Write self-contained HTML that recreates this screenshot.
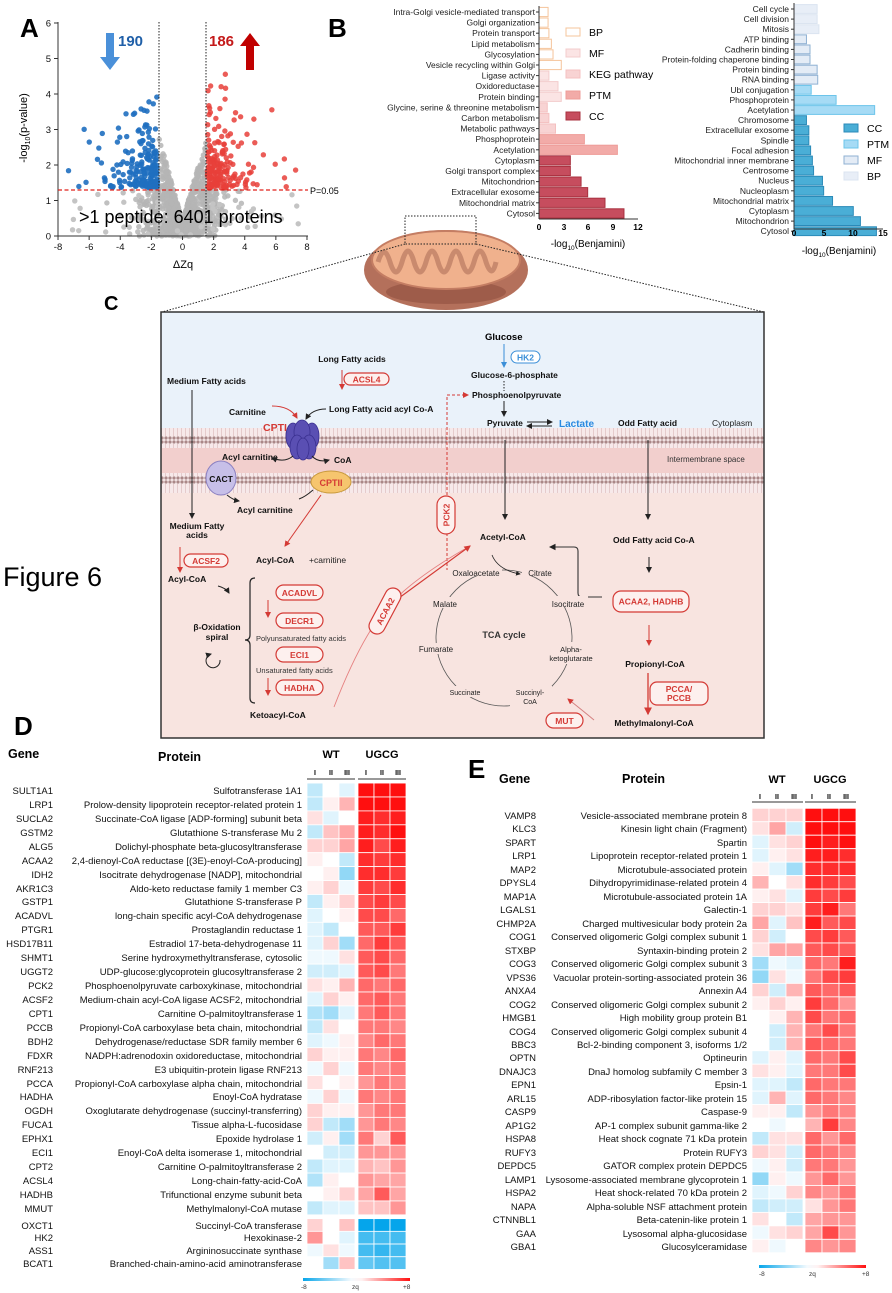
<!DOCTYPE html>
<html><head><meta charset="utf-8">
<style>
html,body{margin:0;padding:0;background:#fff;}
svg{display:block;font-family:"Liberation Sans",Arial,sans-serif;}
.b{font-weight:bold}
.lb{font-size:8.5px;fill:#222}
.g{font-size:9.5px;fill:#111}
.pill{fill:#fdf0ee;stroke:#d43a35;stroke-width:1.2}
.pt{font-size:8.5px;font-weight:bold;fill:#d43a35;text-anchor:middle}
.c{font-size:8.5px;fill:#111;font-weight:bold}
.s{font-size:7.5px;fill:#333}
</style></head><body>
<svg id="s" width="892" height="1293" viewBox="0 0 892 1293" xmlns="http://www.w3.org/2000/svg">
<defs>
<marker id="ak" markerWidth="6" markerHeight="6" refX="5" refY="3" orient="auto"><path d="M0,0L6,3L0,6z" fill="#222"/></marker>
<marker id="ar" markerWidth="6" markerHeight="6" refX="5" refY="3" orient="auto"><path d="M0,0L6,3L0,6z" fill="#d43a35"/></marker>
<marker id="ab" markerWidth="6" markerHeight="6" refX="5" refY="3" orient="auto"><path d="M0,0L6,3L0,6z" fill="#3b8fd8"/></marker>
<pattern id="mem" width="4" height="20" patternUnits="userSpaceOnUse">
<rect width="4" height="20" fill="#f7e9ea"/>
<circle cx="2" cy="2" r="1.6" fill="#a88"/><circle cx="2" cy="18" r="1.6" fill="#a88"/>
<line x1="1.5" y1="4" x2="1.5" y2="16" stroke="#d9b8b8" stroke-width="0.6"/>
</pattern>
<linearGradient id="cb"><stop offset="0" stop-color="#08a6ea"/><stop offset="0.45" stop-color="#f4fafe"/><stop offset="0.55" stop-color="#fff2f2"/><stop offset="1" stop-color="#ff1010"/></linearGradient>
</defs>

<!-- ===== A ===== -->
<text x="20" y="37" font-size="26" class="b">A</text>
<g id="scat"></g>
<g stroke="#333" stroke-width="1" fill="none">
<line x1="58" y1="22" x2="58" y2="236"/><line x1="58" y1="236" x2="308" y2="236"/>
</g>
<g id="ax" font-size="9.5" fill="#111"></g>
<line x1="159" y1="22" x2="159" y2="236" stroke="#222" stroke-dasharray="1.5,1.5"/>
<line x1="206" y1="22" x2="206" y2="236" stroke="#222" stroke-dasharray="1.5,1.5"/>
<line x1="58" y1="190" x2="308" y2="190" stroke="#e0201a" stroke-width="1.2" stroke-dasharray="4,2.5"/>
<text x="310" y="194" font-size="9">P=0.05</text>
<text x="79" y="223" font-size="18">&gt;1 peptide: 6401 proteins</text>
<text x="183" y="268" font-size="11" text-anchor="middle">ΔZq</text>
<text transform="translate(27,128) rotate(-90)" font-size="11" text-anchor="middle">-log<tspan font-size="7" dy="3">10</tspan><tspan dy="-3">(p-value)</tspan></text>
<path d="M106,33h8v24h6l-10,13l-10,-13h6z" fill="#4a90d9"/>
<text x="118" y="46" font-size="15" class="b" fill="#1f5fa8">190</text>
<path d="M246,70v-24h-6l10,-13l10,13h-6v24z" fill="#c00000"/>
<text x="209" y="46" font-size="15" class="b" fill="#c41a1a">186</text>

<!-- ===== B ===== -->
<text x="328" y="37" font-size="26" class="b">B</text>
<g id="bl"></g>
<g class="lb" text-anchor="end">
<text x="535" y="15">Intra-Golgi vesicle-mediated transport</text>
<text x="535" y="25.6">Golgi organization</text>
<text x="535" y="36.2">Protein transport</text>
<text x="535" y="46.8">Lipid metabolism</text>
<text x="535" y="57.4">Glycosylation</text>
<text x="535" y="68">Vesicle recycling within Golgi</text>
<text x="535" y="78.6">Ligase activity</text>
<text x="535" y="89.2">Oxidoreductase</text>
<text x="535" y="99.8">Protein binding</text>
<text x="535" y="110.4">Glycine, serine &amp; threonine metabolism</text>
<text x="535" y="121">Carbon metabolism</text>
<text x="535" y="131.6">Metabolic pathways</text>
<text x="535" y="142.2">Phosphoprotein</text>
<text x="535" y="152.8">Acetylation</text>
<text x="535" y="163.4">Cytoplasm</text>
<text x="535" y="174">Golgi transport complex</text>
<text x="535" y="184.6">Mitochondrion</text>
<text x="535" y="195.2">Extracellular exosome</text>
<text x="535" y="205.8">Mitochondrial matrix</text>
<text x="535" y="216.4">Cytosol</text>
</g>
<line x1="539" y1="6" x2="539" y2="219" stroke="#333"/>
<line x1="539" y1="219" x2="638" y2="219" stroke="#333"/>
<g font-size="8.5" text-anchor="middle" class="b"><text x="539" y="230">0</text><text x="564" y="230">3</text><text x="588" y="230">6</text><text x="613" y="230">9</text><text x="638" y="230">12</text></g>
<text x="588" y="247" font-size="10" text-anchor="middle">-log<tspan font-size="6.5" dy="3">10</tspan><tspan dy="-3">(Benjamini)</tspan></text>
<g font-size="10.5">
<rect x="566" y="28" width="14" height="8" fill="#fff" stroke="#f5c49b"/><text x="589" y="36">BP</text>
<rect x="566" y="49" width="14" height="8" fill="#fbe4e4" stroke="#f3cccc"/><text x="589" y="57">MF</text>
<rect x="566" y="70" width="14" height="8" fill="#f8d3d3" stroke="#f4c0c0"/><text x="589" y="78">KEG pathway</text>
<rect x="566" y="91" width="14" height="8" fill="#f2aba8" stroke="#ee9c98"/><text x="589" y="99">PTM</text>
<rect x="566" y="112" width="14" height="8" fill="#c64d5e" stroke="#a8313f"/><text x="589" y="120">CC</text>
</g>

<g id="br"></g>
<g class="lb" text-anchor="end">
<text x="789" y="12">Cell cycle</text>
<text x="789" y="22.1">Cell division</text>
<text x="789" y="32.2">Mitosis</text>
<text x="789" y="42.3">ATP binding</text>
<text x="789" y="52.4">Cadherin binding</text>
<text x="789" y="62.5">Protein-folding chaperone binding</text>
<text x="789" y="72.6">Protein binding</text>
<text x="789" y="82.7">RNA binding</text>
<text x="789" y="92.8">Ubl conjugation</text>
<text x="789" y="102.9">Phosphoprotein</text>
<text x="789" y="113">Acetylation</text>
<text x="789" y="123.1">Chromosome</text>
<text x="789" y="133.2">Extracellular exosome</text>
<text x="789" y="143.3">Spindle</text>
<text x="789" y="153.4">Focal adhesion</text>
<text x="789" y="163.5">Mitochondrial inner membrane</text>
<text x="789" y="173.6">Centrosome</text>
<text x="789" y="183.7">Nucleus</text>
<text x="789" y="193.8">Nucleoplasm</text>
<text x="789" y="203.9">Mitochondrial matrix</text>
<text x="789" y="214">Cytoplasm</text>
<text x="789" y="224.1">Mitochondrion</text>
<text x="789" y="234.2">Cytosol</text>
</g>
<line x1="794" y1="3" x2="794" y2="229" stroke="#333"/>
<line x1="794" y1="229" x2="883" y2="229" stroke="#333"/>
<g font-size="8.5" text-anchor="middle" class="b"><text x="794" y="236">0</text><text x="824" y="236">5</text><text x="853" y="236">10</text><text x="883" y="236">15</text></g>
<text x="839" y="254" font-size="10" text-anchor="middle">-log<tspan font-size="6.5" dy="3">10</tspan><tspan dy="-3">(Benjamini)</tspan></text>
<g font-size="10.5">
<rect x="844" y="124" width="14" height="8" fill="#4aaed6" stroke="#2b8ab8"/><text x="867" y="132">CC</text>
<rect x="844" y="140" width="14" height="8" fill="#a6dbf5" stroke="#6cc4ea"/><text x="867" y="148">PTM</text>
<rect x="844" y="156" width="14" height="8" fill="#e4ecf6" stroke="#8fb1d3"/><text x="867" y="164">MF</text>
<rect x="844" y="172" width="14" height="8" fill="#e8eef7" stroke="#dbe4f0"/><text x="867" y="180">BP</text>
</g>

<!-- mitochondrion -->
<ellipse cx="446" cy="270" rx="82" ry="40" fill="#b4705b"/>
<ellipse cx="446" cy="292" rx="60" ry="12" fill="#9e5c4a"/>
<ellipse cx="446" cy="260" rx="74" ry="29" fill="#f0b18d" stroke="#c47d63" stroke-width="2"/>
<path d="M378,262 q6,-20 12,0 q6,20 12,0 q6,-22 12,0 q6,20 12,0 q6,-22 12,0 q6,20 12,0 q6,-22 12,0 q6,20 12,0 q6,-22 12,0 q6,18 10,0" fill="none" stroke="#c98a6e" stroke-width="5"/>
<rect x="405" y="216" width="71" height="28" fill="none" stroke="#222" stroke-dasharray="1.5,1.5"/>
<line x1="405" y1="244" x2="162" y2="312" stroke="#222" stroke-dasharray="1.5,1.5"/>
<line x1="476" y1="244" x2="764" y2="312" stroke="#222" stroke-dasharray="1.5,1.5"/>

<!-- ===== C ===== -->
<text x="104" y="310" font-size="20" class="b">C</text>
<text x="3" y="586" font-size="27">Figure 6</text>
<rect x="161" y="312" width="603" height="426" fill="#f8e4e0"/>
<rect x="161" y="312" width="603" height="116" fill="#eaf2fa"/>
<rect x="161" y="428" width="603" height="20" fill="url(#mem)"/>
<rect x="161" y="448" width="603" height="25" fill="#f2cfcd"/>
<rect x="161" y="473" width="603" height="20" fill="url(#mem)"/>
<rect x="161" y="312" width="603" height="426" fill="none" stroke="#333" stroke-width="1.5"/>

<text x="485" y="340" font-size="9.5" class="b">Glucose</text>
<line x1="504" y1="344" x2="504" y2="367" stroke="#3b8fd8" marker-end="url(#ab)"/>
<rect x="511" y="351" width="29" height="12" rx="6" fill="#fff" stroke="#3b8fd8"/>
<text x="525.5" y="360.5" font-size="8.5" class="b" fill="#3b8fd8" text-anchor="middle">HK2</text>
<text x="471" y="378" class="c" font-size="8">Glucose-6-phosphate</text>
<line x1="504" y1="381" x2="504" y2="391" stroke="#222" stroke-dasharray="1.5,1.5"/>
<text x="472" y="398" class="c" font-size="8">Phosphoenolpyruvate</text>
<path d="M447,510 V395 H468" fill="none" stroke="#d43a35" stroke-dasharray="3,2" marker-end="url(#ar)"/>
<line x1="447" y1="533" x2="447" y2="570" stroke="#d43a35" stroke-dasharray="3,2"/>
<line x1="504" y1="401" x2="504" y2="416" stroke="#222" marker-end="url(#ak)"/>
<text x="487" y="426" class="c" font-size="8">Pyruvate</text>
<line x1="527" y1="422" x2="552" y2="422" stroke="#222" marker-end="url(#ak)"/>
<line x1="552" y1="426" x2="527" y2="426" stroke="#222" marker-end="url(#ak)"/>
<text x="559" y="427" font-size="10" class="b" fill="#2a8ae0">Lactate</text>
<text x="618" y="426" class="c" font-size="9">Odd Fatty acid</text>
<text x="712" y="426" font-size="8.5" fill="#222">Cytoplasm</text>
<text x="667" y="462" font-size="8" fill="#333">Intermembrane space</text>

<text x="352" y="362" class="c" font-size="9" text-anchor="middle">Long Fatty acids</text>
<line x1="342" y1="370" x2="342" y2="389" stroke="#d43a35" marker-end="url(#ar)"/>
<rect x="344" y="373" width="45" height="12" rx="6" class="pill"/>
<text x="366.5" y="382.5" class="pt">ACSL4</text>
<text x="167" y="384" class="c" font-size="9">Medium Fatty acids</text>
<line x1="192" y1="390" x2="192" y2="518" stroke="#222" marker-end="url(#ak)"/>
<text x="229" y="415" class="c" font-size="9">Carnitine</text>
<path d="M272,406 Q290,406 297,418" fill="none" stroke="#d43a35" marker-end="url(#ar)"/>
<text x="329" y="412" class="c" font-size="9">Long Fatty acid acyl Co-A</text>
<path d="M326,409 Q312,409 306,419" fill="none" stroke="#222" marker-end="url(#ak)"/>
<text x="263" y="431" font-size="10.5" class="b" fill="#d43a35">CPTI</text>
<g fill="#5a4fb3" stroke="#3a3090" stroke-width="0.8">
<ellipse cx="293" cy="436" rx="7" ry="13"/><ellipse cx="312" cy="436" rx="7" ry="13"/>
<ellipse cx="302" cy="432" rx="8" ry="12"/><ellipse cx="297" cy="447" rx="7" ry="12"/><ellipse cx="309" cy="447" rx="7" ry="12"/><ellipse cx="303" cy="449" rx="6" ry="11"/>
</g>
<text x="222" y="460" class="c" font-size="8">Acyl carnitine</text>
<path d="M293,456 Q285,463 272,458" fill="none" stroke="#222" marker-end="url(#ak)"/>
<path d="M312,456 Q318,463 329,460" fill="none" stroke="#222" marker-end="url(#ak)"/>
<text x="334" y="463" class="c" font-size="8">CoA</text>
<ellipse cx="221" cy="478" rx="15" ry="17" fill="#c7bfe8" stroke="#8a7fc0"/>
<text x="221" y="482" class="c" font-size="9" text-anchor="middle">CACT</text>
<ellipse cx="331" cy="482" rx="20" ry="11" fill="#f6c56e" stroke="#c99a3d"/>
<text x="331" y="486" font-size="9" class="b" fill="#d43a35" text-anchor="middle">CPTII</text>
<path d="M227,495 Q233,500 239,501" fill="none" stroke="#222" marker-end="url(#ak)"/>
<text x="237" y="513" class="c" font-size="9">Acyl carnitine</text>
<path d="M313,490 Q305,497 299,499" fill="none" stroke="#222"/>
<line x1="321" y1="495" x2="285" y2="546" stroke="#d43a35" marker-end="url(#ar)"/>
<text x="197" y="529" class="c" font-size="8" text-anchor="middle">Medium Fatty</text>
<text x="197" y="538" class="c" font-size="8" text-anchor="middle">acids</text>
<line x1="180" y1="547" x2="180" y2="572" stroke="#d43a35" marker-end="url(#ar)"/>
<rect x="184" y="554" width="44" height="13" rx="6.5" class="pill"/>
<text x="206" y="564" class="pt">ACSF2</text>
<text x="168" y="582" class="c" font-size="9">Acyl-CoA</text>
<path d="M218,586 Q226,588 229,593" fill="none" stroke="#222" marker-end="url(#ak)"/>
<text x="256" y="563" class="c" font-size="9">Acyl-CoA</text>
<text x="309" y="563" font-size="8.5" fill="#222">+carnitine</text>
<path d="M255,578 q-5,0 -5,5 v52 q0,5 -5,5 q5,0 5,5 v53 q0,5 5,5" fill="none" stroke="#222" stroke-width="1.2"/>
<text x="217" y="630" class="c" font-size="9" text-anchor="middle">β-Oxidation</text>
<text x="217" y="640" class="c" font-size="9" text-anchor="middle">spiral</text>
<path d="M220,660 a7,7 0 1 1 -9,-6" fill="none" stroke="#222" marker-end="url(#ak)"/>
<rect x="276" y="585" width="47" height="15" rx="7.5" class="pill"/><text x="299.5" y="596" class="pt">ACADVL</text>
<line x1="268" y1="600" x2="268" y2="617" stroke="#d43a35" marker-end="url(#ar)"/>
<rect x="276" y="613" width="47" height="15" rx="7.5" class="pill"/><text x="299.5" y="624" class="pt">DECR1</text>
<text x="256" y="641" class="s" font-size="7">Polyunsaturated fatty acids</text>
<rect x="276" y="647" width="47" height="15" rx="7.5" class="pill"/><text x="299.5" y="658" class="pt">ECI1</text>
<text x="256" y="673" class="s" font-size="7">Unsaturated fatty acids</text>
<line x1="268" y1="678" x2="268" y2="695" stroke="#d43a35" marker-end="url(#ar)"/>
<rect x="276" y="680" width="47" height="15" rx="7.5" class="pill"/><text x="299.5" y="691" class="pt">HADHA</text>
<text x="250" y="718" class="c" font-size="9">Ketoacyl-CoA</text>
<path d="M334,707 Q360,640 385,610 T470,546" fill="none" stroke="#e58080" stroke-width="0.9"/>
<path d="M388,606 L470,546" fill="none" stroke="#d43a35" stroke-width="1.1" marker-end="url(#ar)"/>
<g transform="translate(385,611) rotate(-62)"><rect x="-25" y="-8" width="50" height="16" rx="8" class="pill"/><text x="0" y="3.5" class="pt">ACAA2</text></g>
<g transform="translate(446,515) rotate(-90)"><rect x="-19" y="-9" width="38" height="18" rx="9" class="pill"/><text x="0" y="3.5" class="pt">PCK2</text></g>
<line x1="505" y1="440" x2="505" y2="519" stroke="#222" marker-end="url(#ak)"/>
<text x="480" y="540" class="c" font-size="9.5">Acetyl-CoA</text>
<line x1="648" y1="440" x2="648" y2="519" stroke="#222" marker-end="url(#ak)"/>
<text x="613" y="543" class="c" font-size="9.5">Odd Fatty acid Co-A</text>
<line x1="649" y1="557" x2="649" y2="572" stroke="#222" marker-end="url(#ak)"/>
<path d="M602,597 H582 Q578,597 578,593 V551 Q578,547 574,547 H550" fill="none" stroke="#333" stroke-width="1.1" marker-end="url(#ak)"/>
<rect x="613" y="591" width="76" height="21" rx="8" class="pill"/><text x="651" y="604.5" class="pt" font-size="8">ACAA2, HADHB</text>
<line x1="649" y1="625" x2="649" y2="645" stroke="#d43a35" marker-end="url(#ar)"/>
<text x="655" y="667" class="c" font-size="9.5" text-anchor="middle">Propionyl-CoA</text>
<line x1="648" y1="673" x2="648" y2="714" stroke="#d43a35" stroke-width="1.3" marker-end="url(#ar)"/>
<rect x="650" y="682" width="58" height="23" rx="7" class="pill"/>
<text x="679" y="692" class="pt" font-size="7.5">PCCA/</text><text x="679" y="701" class="pt" font-size="7.5">PCCB</text>
<text x="654" y="726" class="c" font-size="9.5" text-anchor="middle">Methylmalonyl-CoA</text>
<rect x="546" y="713" width="37" height="15" rx="7.5" class="pill"/><text x="564.5" y="724" class="pt">MUT</text>
<path d="M594,720 Q582,710 568,699" fill="none" stroke="#d48080" marker-end="url(#ar)"/>
<!-- TCA -->
<circle cx="504" cy="638" r="68" fill="none" stroke="#555" stroke-width="0.8"/>
<rect x="452" y="565" width="50" height="11" fill="#f8e4e0"/>
<rect x="522" y="565" width="36" height="11" fill="#f8e4e0"/>
<rect x="548" y="596" width="40" height="11" fill="#f8e4e0"/>
<rect x="545" y="642" width="54" height="22" fill="#f8e4e0"/>
<rect x="510" y="686" width="42" height="22" fill="#f8e4e0"/>
<rect x="447" y="686" width="36" height="11" fill="#f8e4e0"/>
<rect x="414" y="643" width="44" height="11" fill="#f8e4e0"/>
<rect x="427" y="597" width="36" height="11" fill="#f8e4e0"/>
<path d="M492,555 Q498,570 520,574" fill="none" stroke="#222" stroke-width="0.8" marker-end="url(#ak)"/>
<text x="476" y="576" font-size="8" fill="#222" text-anchor="middle">Oxaloacetate</text>
<text x="540" y="576" font-size="8" fill="#222" text-anchor="middle">Citrate</text>
<text x="568" y="607" font-size="8" fill="#222" text-anchor="middle">Isocitrate</text>
<text x="571" y="652" font-size="7.5" fill="#222" text-anchor="middle">Alpha-</text>
<text x="571" y="661" font-size="7.5" fill="#222" text-anchor="middle">ketoglutarate</text>
<text x="530" y="695" font-size="7" fill="#222" text-anchor="middle">Succinyl-</text>
<text x="530" y="704" font-size="7" fill="#222" text-anchor="middle">CoA</text>
<text x="465" y="695" font-size="7" fill="#222" text-anchor="middle">Succinate</text>
<text x="436" y="652" font-size="8" fill="#222" text-anchor="middle">Fumarate</text>
<text x="445" y="607" font-size="8" fill="#222" text-anchor="middle">Malate</text>
<text x="504" y="638" font-size="9" class="b" fill="#333" text-anchor="middle">TCA cycle</text>

<!-- ===== D ===== -->
<text x="14" y="735" font-size="26" class="b">D</text>
<text x="8" y="758" font-size="12.5" class="b">Gene</text>
<text x="158" y="761" font-size="12.5" class="b">Protein</text>
<text x="331" y="758" font-size="11" class="b" text-anchor="middle">WT</text>
<text x="382" y="758" font-size="11" class="b" text-anchor="middle">UGCG</text>
<g font-size="7" class="b" text-anchor="middle"><text x="315" y="775">I</text><text x="331" y="775">II</text><text x="347" y="775">III</text><text x="366" y="775">I</text><text x="382" y="775">II</text><text x="398" y="775">III</text></g>
<line x1="307" y1="779" x2="355" y2="779" stroke="#333"/><line x1="358" y1="779" x2="406" y2="779" stroke="#333"/>
<g class="g" text-anchor="end">
<text x="53" y="794">SULT1A1</text><text x="302" y="794">Sulfotransferase 1A1</text>
<text x="53" y="808">LRP1</text><text x="302" y="808">Prolow-density lipoprotein receptor-related protein 1</text>
<text x="53" y="822">SUCLA2</text><text x="302" y="822">Succinate-CoA ligase [ADP-forming] subunit beta</text>
<text x="53" y="836">GSTM2</text><text x="302" y="836">Glutathione S-transferase Mu 2</text>
<text x="53" y="850">ALG5</text><text x="302" y="850">Dolichyl-phosphate beta-glucosyltransferase</text>
<text x="53" y="864">ACAA2</text><text x="302" y="864">2,4-dienoyl-CoA reductase [(3E)-enoyl-CoA-producing]</text>
<text x="53" y="878">IDH2</text><text x="302" y="878">Isocitrate dehydrogenase [NADP], mitochondrial</text>
<text x="53" y="892">AKR1C3</text><text x="302" y="892">Aldo-keto reductase family 1 member C3</text>
<text x="53" y="905">GSTP1</text><text x="302" y="905">Glutathione S-transferase P</text>
<text x="53" y="919">ACADVL</text><text x="302" y="919">long-chain specific acyl-CoA dehydrogenase</text>
<text x="53" y="933">PTGR1</text><text x="302" y="933">Prostaglandin reductase 1</text>
<text x="53" y="947">HSD17B11</text><text x="302" y="947">Estradiol 17-beta-dehydrogenase 11</text>
<text x="53" y="961">SHMT1</text><text x="302" y="961">Serine hydroxymethyltransferase, cytosolic</text>
<text x="53" y="975">UGGT2</text><text x="302" y="975">UDP-glucose:glycoprotein glucosyltransferase 2</text>
<text x="53" y="989">PCK2</text><text x="302" y="989">Phosphoenolpyruvate carboxykinase, mitochondrial</text>
<text x="53" y="1003">ACSF2</text><text x="302" y="1003">Medium-chain acyl-CoA ligase ACSF2, mitochondrial</text>
<text x="53" y="1017">CPT1</text><text x="302" y="1017">Carnitine O-palmitoyltransferase 1</text>
<text x="53" y="1031">PCCB</text><text x="302" y="1031">Propionyl-CoA carboxylase beta chain, mitochondrial</text>
<text x="53" y="1045">BDH2</text><text x="302" y="1045">Dehydrogenase/reductase SDR family member 6</text>
<text x="53" y="1059">FDXR</text><text x="302" y="1059">NADPH:adrenodoxin oxidoreductase, mitochondrial</text>
<text x="53" y="1073">RNF213</text><text x="302" y="1073">E3 ubiquitin-protein ligase RNF213</text>
<text x="53" y="1087">PCCA</text><text x="302" y="1087">Propionyl-CoA carboxylase alpha chain, mitochondrial</text>
<text x="53" y="1100">HADHA</text><text x="302" y="1100">Enoyl-CoA hydratase</text>
<text x="53" y="1114">OGDH</text><text x="302" y="1114">Oxoglutarate dehydrogenase (succinyl-transferring)</text>
<text x="53" y="1128">FUCA1</text><text x="302" y="1128">Tissue alpha-L-fucosidase</text>
<text x="53" y="1142">EPHX1</text><text x="302" y="1142">Epoxide hydrolase 1</text>
<text x="53" y="1156">ECI1</text><text x="302" y="1156">Enoyl-CoA delta isomerase 1, mitochondrial</text>
<text x="53" y="1170">CPT2</text><text x="302" y="1170">Carnitine O-palmitoyltransferase 2</text>
<text x="53" y="1184">ACSL4</text><text x="302" y="1184">Long-chain-fatty-acid-CoA</text>
<text x="53" y="1198">HADHB</text><text x="302" y="1198">Trifunctional enzyme subunit beta</text>
<text x="53" y="1212">MMUT</text><text x="302" y="1212">Methylmalonyl-CoA mutase</text>
<text x="53" y="1229">OXCT1</text><text x="302" y="1229">Succinyl-CoA transferase</text>
<text x="53" y="1241">HK2</text><text x="302" y="1241">Hexokinase-2</text>
<text x="53" y="1254">ASS1</text><text x="302" y="1254">Argininosuccinate synthase</text>
<text x="53" y="1267">BCAT1</text><text x="302" y="1267">Branched-chain-amino-acid aminotransferase</text>
</g>
<g id="hd"></g>
<rect x="303" y="1278" width="107" height="3" fill="url(#cb)"/>
<g font-size="6.5" fill="#333"><text x="301" y="1289">-8</text><text x="352" y="1289">zq</text><text x="403" y="1289">+8</text></g>

<!-- ===== E ===== -->
<text x="468" y="778" font-size="26" class="b">E</text>
<text x="499" y="783" font-size="12.5" class="b">Gene</text>
<text x="622" y="783" font-size="12.5" class="b">Protein</text>
<text x="777" y="783" font-size="11" class="b" text-anchor="middle">WT</text>
<text x="830" y="783" font-size="11" class="b" text-anchor="middle">UGCG</text>
<g font-size="7" class="b" text-anchor="middle"><text x="760" y="799">I</text><text x="777" y="799">II</text><text x="794" y="799">III</text><text x="812" y="799">I</text><text x="829" y="799">II</text><text x="846" y="799">III</text></g>
<line x1="752" y1="802" x2="803" y2="802" stroke="#333"/><line x1="805" y1="802" x2="856" y2="802" stroke="#333"/>
<g class="g" text-anchor="end">
<text x="536" y="819">VAMP8</text><text x="747" y="819">Vesicle-associated membrane protein 8</text>
<text x="536" y="832">KLC3</text><text x="747" y="832">Kinesin light chain (Fragment)</text>
<text x="536" y="846">SPART</text><text x="747" y="846">Spartin</text>
<text x="536" y="859">LRP1</text><text x="747" y="859">Lipoprotein receptor-related protein 1</text>
<text x="536" y="873">MAP2</text><text x="747" y="873">Microtubule-associated protein</text>
<text x="536" y="886">DPYSL4</text><text x="747" y="886">Dihydropyrimidinase-related protein 4</text>
<text x="536" y="900">MAP1A</text><text x="747" y="900">Microtubule-associated protein 1A</text>
<text x="536" y="913">LGALS1</text><text x="747" y="913">Galectin-1</text>
<text x="536" y="927">CHMP2A</text><text x="747" y="927">Charged multivesicular body protein 2a</text>
<text x="536" y="940">COG1</text><text x="747" y="940">Conserved oligomeric Golgi complex subunit 1</text>
<text x="536" y="954">STXBP</text><text x="747" y="954">Syntaxin-binding protein 2</text>
<text x="536" y="967">COG3</text><text x="747" y="967">Conserved oligomeric Golgi complex subunit 3</text>
<text x="536" y="981">VPS36</text><text x="747" y="981">Vacuolar protein-sorting-associated protein 36</text>
<text x="536" y="994">ANXA4</text><text x="747" y="994">Annexin A4</text>
<text x="536" y="1008">COG2</text><text x="747" y="1008">Conserved oligomeric Golgi complex subunit 2</text>
<text x="536" y="1021">HMGB1</text><text x="747" y="1021">High mobility group protein B1</text>
<text x="536" y="1035">COG4</text><text x="747" y="1035">Conserved oligomeric Golgi complex subunit 4</text>
<text x="536" y="1048">BBC3</text><text x="747" y="1048">Bcl-2-binding component 3, isoforms 1/2</text>
<text x="536" y="1061">OPTN</text><text x="747" y="1061">Optineurin</text>
<text x="536" y="1075">DNAJC3</text><text x="747" y="1075">DnaJ homolog subfamily C member 3</text>
<text x="536" y="1088">EPN1</text><text x="747" y="1088">Epsin-1</text>
<text x="536" y="1102">ARL15</text><text x="747" y="1102">ADP-ribosylation factor-like protein 15</text>
<text x="536" y="1115">CASP9</text><text x="747" y="1115">Caspase-9</text>
<text x="536" y="1129">AP1G2</text><text x="747" y="1129">AP-1 complex subunit gamma-like 2</text>
<text x="536" y="1142">HSPA8</text><text x="747" y="1142">Heat shock cognate 71 kDa protein</text>
<text x="536" y="1156">RUFY3</text><text x="747" y="1156">Protein RUFY3</text>
<text x="536" y="1169">DEPDC5</text><text x="747" y="1169">GATOR complex protein DEPDC5</text>
<text x="536" y="1183">LAMP1</text><text x="747" y="1183">Lysosome-associated membrane glycoprotein 1</text>
<text x="536" y="1196">HSPA2</text><text x="747" y="1196">Heat shock-related 70 kDa protein 2</text>
<text x="536" y="1210">NAPA</text><text x="747" y="1210">Alpha-soluble NSF attachment protein</text>
<text x="536" y="1223">CTNNBL1</text><text x="747" y="1223">Beta-catenin-like protein 1</text>
<text x="536" y="1237">GAA</text><text x="747" y="1237">Lysosomal alpha-glucosidase</text>
<text x="536" y="1250">GBA1</text><text x="747" y="1250">Glucosylceramidase</text>
</g>
<g id="he"></g>
<rect x="759" y="1265" width="107" height="3" fill="url(#cb)"/>
<g font-size="6.5" fill="#333"><text x="759" y="1276">-8</text><text x="809" y="1276">zq</text><text x="862" y="1276">+8</text></g>
</svg>
<script>
(function(){
var NS="http://www.w3.org/2000/svg";
function el(p,t,a){var e=document.createElementNS(NS,t);for(var k in a)e.setAttribute(k,a[k]);p.appendChild(e);return e;}
function col(v){var r,g,b,t;if(v>=0){t=Math.min(v/8,1);r=255;g=Math.round(255-240*t);b=g;}else{t=Math.min(-v/8,1);r=Math.round(255-250*t);g=Math.round(255-90*t);b=Math.round(255-20*t);}return"rgb("+r+","+g+","+b+")";}
var seed=7;function rnd(){seed=(seed*16807)%2147483647;return seed/2147483647;}
function gs(){return Math.sqrt(-2*Math.log(rnd()+1e-9))*Math.cos(2*Math.PI*rnd());}
var sc=document.getElementById("scat");
function px(x){return 182.5+x*15.56}function py(y){return 236-y*35.5}
for(var i=0;i<900;i++){var x=gs()*1.2;if(x>7||x<-7)continue;var y=rnd()*(0.4+Math.abs(x)*1.6);if(Math.abs(x)>1.5&&y>1.3)y=rnd()*1.3;if(y>3.8)y=rnd()*3.5;
el(sc,"circle",{cx:px(x),cy:py(y),r:2.7,fill:"#b5b5b5","fill-opacity":0.85});}
for(var i=0;i<40;i++){var x=(rnd()*2-1)*7.5;var y=rnd()*1.2;el(sc,"circle",{cx:px(x),cy:py(y),r:2.7,fill:"#c4c4c4"});}
for(var i=0;i<190;i++){var x=-1.6-(-Math.log(rnd()+1e-9))*1.1;if(x<-7.6)x=-7.6+rnd();var y=1.35-Math.log(rnd()+1e-9)*0.6;if(y>4)y=1.5+rnd()*2.3;
el(sc,"circle",{cx:px(x),cy:py(y),r:2.7,fill:"#1f6fc0","fill-opacity":0.9});}
for(var i=0;i<186;i++){var x=1.6-Math.log(rnd()+1e-9)*1.1;if(x>7.8)x=6+rnd()*1.5;var y=1.35-Math.log(rnd()+1e-9)*0.75;if(y>5.7)y=2+rnd()*2.5;
el(sc,"circle",{cx:px(x),cy:py(y),r:2.7,fill:"#e8403a","fill-opacity":0.85});}
var ax=document.getElementById("ax");
for(var v=-8;v<=8;v+=2){el(ax,"line",{x1:px(v),y1:236,x2:px(v),y2:240,stroke:"#333"});var t=el(ax,"text",{x:px(v),y:250,"text-anchor":"middle"});t.textContent=v;}
for(var v=0;v<=6;v++){el(ax,"line",{x1:54,y1:py(v),x2:58,y2:py(v),stroke:"#333"});var t=el(ax,"text",{x:51,y:py(v)+3.5,"text-anchor":"end"});t.textContent=v;}
var bl=document.getElementById("bl");
var L=[[1.1,0],[1.1,0],[1.2,0],[1.5,0],[1.7,0],[2.7,0],[1.2,1],[2.3,1],[2.7,1],[1.0,2],[1.2,2],[2.0,2],[5.5,3],[9.5,3],[3.8,4],[3.8,4],[5.1,4],[5.9,4],[8.0,4],[10.3,4]];
var LF=["#fff","#fbe4e4","#f8d3d3","#f2aba8","#c64d5e"],LS=["#f5c49b","#f3cccc","#f4c0c0","#ee9c98","#a8313f"];
L.forEach(function(d,i){var y=12+i*10.6;el(bl,"rect",{x:539,y:y-4.6,width:d[0]*8.25,height:9.2,fill:LF[d[1]],stroke:LS[d[1]],"stroke-width":1});el(bl,"line",{x1:536,y1:y,x2:539,y2:y,stroke:"#333"});});
var br=document.getElementById("br");
var R=[[3.9,3],[3.9,3],[4.2,3],[2.1,2],[2.7,2],[2.7,2],[3.9,2],[4.0,2],[2.9,1],[7.1,1],[13.6,1],[2.1,0],[2.5,0],[2.5,0],[2.8,0],[3.1,0],[3.3,0],[4.8,0],[5.0,0],[6.5,0],[10,0],[11.2,0],[13.9,0]];
var RF=["#4aaed6","#a6dbf5","#e4ecf6","#e8eef7"],RS=["#2b8ab8","#6cc4ea","#8fb1d3","#dbe4f0"];
R.forEach(function(d,i){var y=9+i*10.1;el(br,"rect",{x:794,y:y-4.4,width:d[0]*5.93,height:8.8,fill:RF[d[1]],stroke:RS[d[1]],"stroke-width":1});el(br,"line",{x1:791,y1:y,x2:794,y2:y,stroke:"#333"});});
var D=[[-2,0,-1,8,8,8],[-2,.5,2.5,8,8,8],[1,-1,0,7.5,7,7.5],[-2,2,3,7.5,7,8],[1.5,1.5,3,7.5,6,7.5],[.5,0,-2,7,6.5,7],[0,.5,-3.5,7,7,6.5],[.5,1.5,-.5,6.5,6,7],[-2,.5,1.5,6,6.5,6],[-1,0,.5,6,6,5],[-1,-2,0,5.5,5.5,6.5],[-1,1.5,-3,5,6.5,5.5],[-.5,-.5,1,5.5,6,5],[-1.5,-1.5,-1,5.5,6,4.5],[1,.5,2.5,5,4.5,5],[-1,1.5,.5,5,5.5,4.5],[-2.5,-3,-1,4.5,5.5,4.5],[-2,1,0,4.5,4.5,4],[-1,-.5,.5,4,5,4.5],[1.5,.5,.5,4.5,4,5],[-.5,1.5,-.5,4.5,4,4.5],[1,0,.5,3.5,4.5,4],[-.5,1.5,-.5,4.5,4,4.5],[1.5,.5,.5,3.5,4.5,4.5],[1.5,-2,-3,3.5,4.5,4],[-1.5,.5,-3,4.5,1.5,5.5],[0,-1.5,-1.5,3.5,3.5,3.5],[-2,-1,-1,2.5,2,3.5],[-2.5,.5,0,3.5,3,3],[0,.5,1.5,3,5.5,3],[-2,-1,-1,2,2,3.5],[1.5,0,2,-8,-8,-8],[3.5,0,-1,-6,-6,-6],[-.5,1,-.5,-6,-6.5,-6],[0,-3,2,-5,-5.5,-5.5]];
var hd=document.getElementById("hd"),DX=[307,323,339,358,374,390];
D.forEach(function(r,i){var y=i<31?790+i*13.93:1225+(i-31)*12.7;var h=i<31?13.9:12.7;r.forEach(function(v,j){el(hd,"rect",{x:DX[j],y:y-h/2,width:16,height:h,fill:col(v),stroke:"#fff","stroke-width":0.8});});});
var E=[[1.5,1.5,1.5,8,8,8],[1,3,-1.5,8,8,8],[-1,1,1.5,8,7.5,8],[-1,.5,1,7.5,7.5,7],[.5,-1,-3,7,7,7],[2.5,0,1,7,6.5,6],[.5,1,-1,6.5,6,6.5],[1.5,1.5,1,6.5,7.5,4.5],[3,-1,2,7.5,5.5,6],[1.5,-1.5,0,6,6.5,5.5],[1,3,3,5.5,6,5.5],[-3,-.5,-1,5,4.5,7.5],[-3.5,1,-.5,4.5,6,6.5],[1.5,-1.5,2.5,5.5,5,5.5],[.5,1.5,.5,6.5,5,3.5],[0,.5,2.5,6,4.5,5],[0,-1.5,2.5,4.5,6,4.5],[0,-1.5,2.5,5.5,5,4.5],[-1,.5,-1,5,4.5,6],[1,.5,-1,4.5,4.5,6],[-1,-1,-2,5,4.5,4.5],[-1,2.5,-1,5,4.5,4],[.5,.5,-2,3.5,4.5,4],[0,-.5,0,2.5,6.5,4],[-2,1,1,5,3.5,5],[1.5,1,-1.5,5,4.5,4],[-.5,.5,-1.5,4.5,4.5,3.5],[-3.5,.5,-.5,3.5,5,3.5],[-1,-.5,1.5,4,3.5,4.5],[-2,-1.5,-1.5,1,3.5,4.5],[1,0,-2,3,3.5,3.5],[-.5,1,1.5,3,6,3.5],[.5,-.5,0,4,3.5,4]];
var he=document.getElementById("he"),EX=[752,769,786,805,822,839];
E.forEach(function(r,i){var y=815+i*13.47;r.forEach(function(v,j){el(he,"rect",{x:EX[j],y:y-6.7,width:17,height:13.4,fill:col(v),stroke:"#fff","stroke-width":0.8});});});
})();
</script>
</body></html>
